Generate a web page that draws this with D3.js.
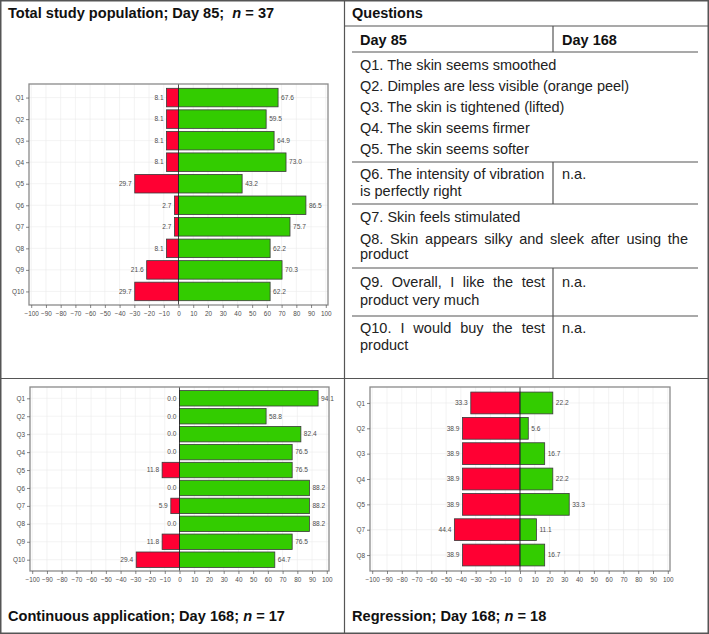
<!DOCTYPE html>
<html>
<head>
<meta charset="utf-8">
<script src="https://cdn.jsdelivr.net/npm/d3@7"></script>
<style>
  html, body { margin: 0; padding: 0; background: #fff; }
  svg { display: block; font-family: Arial, "Liberation Sans", sans-serif; }
</style>
</head>
<body>
<svg id="fig" width="709" height="634"></svg>
<script>
// ---------- data ----------
const day85Categories = ["Q1","Q2","Q3","Q4","Q5","Q6","Q7","Q8","Q9","Q10"];
const day85Negative = [8.1, 8.1, 8.1, 8.1, 29.7, 2.7, 2.7, 8.1, 21.6, 29.7];
const day85Positive = [67.6, 59.5, 64.9, 73.0, 43.2, 86.5, 75.7, 62.2, 70.3, 62.2];

const contCategories = ["Q1","Q2","Q3","Q4","Q5","Q6","Q7","Q8","Q9","Q10"];
const contNegative = [0.0, 0.0, 0.0, 0.0, 11.8, 0.0, 5.9, 0.0, 11.8, 29.4];
const contPositive = [94.1, 58.8, 82.4, 76.5, 76.5, 88.2, 88.2, 88.2, 76.5, 64.7];

const regrCategories = ["Q1","Q2","Q3","Q4","Q5","Q7","Q8"];
const regrNegative = [33.3, 38.9, 38.9, 38.9, 38.9, 44.4, 38.9];
const regrPositive = [22.2, 5.6, 16.7, 22.2, 33.3, 11.1, 16.7];

const xTicks = [-100,-90,-80,-70,-60,-50,-40,-30,-20,-10,0,10,20,30,40,50,60,70,80,90,100];

const titleDay85 = "Total study population; Day 85;  ";
const titleCont = "Continuous application; Day 168; ";
const titleRegr = "Regression; Day 168; ";

const tableHeader = "Questions";
const colHeaders = ["Day 85", "Day 168"];

// ---------- drawing ----------
const svg = d3.select("#fig");
const RED = "#FF0033", GREEN = "#33CC00";
const fmt = d3.format(".1f");

function drawPanel(cats, neg, pos, box) {
  const g = svg.append("g");
  const x = d3.scaleLinear().domain([-101.5, 101.5]).range([box.left, box.right]);
  const y = d3.scalePoint().domain(cats).range([box.top, box.bottom]).padding(0.63);
  const bh = y.step() * 0.86;

  g.append("rect").attr("x", box.left).attr("y", box.top)
    .attr("width", box.right - box.left).attr("height", box.bottom - box.top)
    .attr("fill", "#fff");
  g.selectAll("line.vg").data(xTicks).join("line")
    .attr("x1", d => x(d)).attr("x2", d => x(d))
    .attr("y1", box.top).attr("y2", box.bottom)
    .attr("stroke", "#ebebeb").attr("stroke-width", 0.6);
  g.selectAll("line.hg").data(cats).join("line")
    .attr("x1", box.left).attr("x2", box.right)
    .attr("y1", d => y(d)).attr("y2", d => y(d))
    .attr("stroke", "#ebebeb").attr("stroke-width", 0.6);

  const rows = cats.map((c, i) => ({c, n: neg[i], p: pos[i]}));
  g.selectAll("rect.neg").data(rows).join("rect")
    .attr("x", d => x(-d.n)).attr("width", d => x(0) - x(-d.n))
    .attr("y", d => y(d.c) - bh / 2).attr("height", bh)
    .attr("fill", RED).attr("stroke", "#3a3a3a").attr("stroke-width", 0.8);
  g.selectAll("rect.pos").data(rows).join("rect")
    .attr("x", x(0)).attr("width", d => x(d.p) - x(0))
    .attr("y", d => y(d.c) - bh / 2).attr("height", bh)
    .attr("fill", GREEN).attr("stroke", "#3a3a3a").attr("stroke-width", 0.8);

  g.append("line").attr("x1", x(0)).attr("x2", x(0))
    .attr("y1", box.top).attr("y2", box.bottom)
    .attr("stroke", "#222").attr("stroke-width", 0.8);

  g.selectAll("text.nl").data(rows).join("text")
    .attr("x", d => x(-d.n) - 3).attr("y", d => y(d.c) + 2.3)
    .attr("text-anchor", "end").attr("font-size", 6.6).attr("fill", "#4d4d4d")
    .text(d => fmt(d.n));
  g.selectAll("text.pl").data(rows).join("text")
    .attr("x", d => x(d.p) + 3).attr("y", d => y(d.c) + 2.3)
    .attr("text-anchor", "start").attr("font-size", 6.6).attr("fill", "#4d4d4d")
    .text(d => fmt(d.p));

  g.append("rect").attr("x", box.left).attr("y", box.top)
    .attr("width", box.right - box.left).attr("height", box.bottom - box.top)
    .attr("fill", "none").attr("stroke", "#8a8a8a").attr("stroke-width", 1.3);

  const xa = g.append("g").attr("transform", `translate(0,${box.bottom})`)
    .call(d3.axisBottom(x).tickValues(xTicks).tickSize(3).tickPadding(3.5)
      .tickFormat(d => d < 0 ? "\u2212" + Math.abs(d) : String(d)));
  xa.select(".domain").remove();
  xa.selectAll("line").attr("stroke", "#555").attr("stroke-width", 0.7);
  xa.selectAll("text").attr("font-size", 6.4).attr("fill", "#4d4d4d")
    .attr("font-family", "Arial, 'Liberation Sans', sans-serif");

  const ya = g.append("g").attr("transform", `translate(${box.left},0)`)
    .call(d3.axisLeft(y).tickSize(3).tickPadding(2));
  ya.select(".domain").remove();
  ya.selectAll("line").attr("stroke", "#555").attr("stroke-width", 0.7);
  ya.selectAll("text").attr("font-size", 6.4).attr("fill", "#4d4d4d")
    .attr("font-family", "Arial, 'Liberation Sans', sans-serif");
}

drawPanel(day85Categories, day85Negative, day85Positive, {left: 29, right: 328, top: 84, bottom: 305});
drawPanel(contCategories, contNegative, contPositive, {left: 30, right: 329, top: 387, bottom: 571});
drawPanel(regrCategories, regrNegative, regrPositive, {left: 370, right: 670, top: 387, bottom: 571});

// ---------- titles ----------
function title(txt, n, xPos, yPos, size) {
  const t = svg.append("text").attr("x", xPos).attr("y", yPos)
    .attr("font-size", size).attr("font-weight", "bold").attr("fill", "#111")
    .style("white-space", "pre");
  t.append("tspan").text(txt);
  t.append("tspan").attr("font-style", "italic").text("n");
  t.append("tspan").text(" = " + n);
}
title(titleDay85, 37, 8, 18, 14.6);
title(titleCont, 17, 8, 621, 14.6);
title(titleRegr, 18, 352, 621, 14.6);

// ---------- questions table ----------
const LINE = "#555";
const FS = 14.5;
function hline(y, x1, x2) {
  svg.append("line").attr("x1", x1).attr("x2", x2).attr("y1", y).attr("y2", y)
    .attr("stroke", LINE).attr("stroke-width", 1.2);
}
function vline(x, y1, y2) {
  svg.append("line").attr("x1", x).attr("x2", x).attr("y1", y1).attr("y2", y2)
    .attr("stroke", LINE).attr("stroke-width", 1.2);
}
const TX = 360, TR = 698, COL = 553;
svg.append("text").attr("x", 352).attr("y", 18).attr("font-size", 14.5)
  .attr("font-weight", "bold").attr("fill", "#111").text(tableHeader);
hline(26, 344, 709);
svg.append("text").attr("x", TX).attr("y", 44.5).attr("font-size", 14.5)
  .attr("font-weight", "bold").attr("fill", "#111").text(colHeaders[0]);
svg.append("text").attr("x", 562).attr("y", 44.5).attr("font-size", 14.5)
  .attr("font-weight", "bold").attr("fill", "#111").text(colHeaders[1]);
vline(COL, 26, 52);
hline(52, 352, TR);

function plain(txt, xPos, yPos) {
  svg.append("text").attr("x", xPos).attr("y", yPos).attr("font-size", FS)
    .attr("fill", "#222").text(txt);
}
function justified(txt, xPos, yPos, width) {
  const words = txt.split(" ");
  const g = svg.append("g");
  const nodes = words.map(w => g.append("text").attr("font-size", FS)
    .attr("fill", "#222").attr("y", yPos).text(w));
  const widths = nodes.map(n => n.node().getComputedTextLength());
  const total = d3.sum(widths);
  const gap = (width - total) / (words.length - 1);
  let cx = xPos;
  nodes.forEach((n, i) => { n.attr("x", cx); cx += widths[i] + gap; });
}

plain("Q1. The skin seems smoothed", TX, 70);
plain("Q2. Dimples are less visible (orange peel)", TX, 91);
plain("Q3. The skin is tightened (lifted)", TX, 112);
plain("Q4. The skin seems firmer", TX, 133);
plain("Q5. The skin seems softer", TX, 154);
hline(162, 352, TR);
plain("Q6. The intensity of vibration", TX, 179);
plain("is perfectly right", TX, 196);
plain("n.a.", 562, 179);
vline(COL, 162, 204);
hline(204, 352, TR);
plain("Q7. Skin feels stimulated", TX, 222);
justified("Q8. Skin appears silky and sleek after using the", TX, 243.5, 688 - TX);
plain("product", TX, 259);
hline(268, 352, TR);
justified("Q9. Overall, I like the test", TX, 287, 545 - TX);
plain("product very much", TX, 305);
plain("n.a.", 562, 287);
hline(316, 352, TR);
justified("Q10. I would buy the test", TX, 333, 545 - TX);
plain("product", TX, 350);
plain("n.a.", 562, 333);
vline(COL, 268, 378);

// ---------- frame ----------
hline(378.5, 0, 709);
vline(344.5, 0, 634);
svg.append("rect").attr("x", 0.75).attr("y", 0.75).attr("width", 707.5).attr("height", 632.5)
  .attr("fill", "none").attr("stroke", LINE).attr("stroke-width", 1.5);
</script>
</body>
</html>
